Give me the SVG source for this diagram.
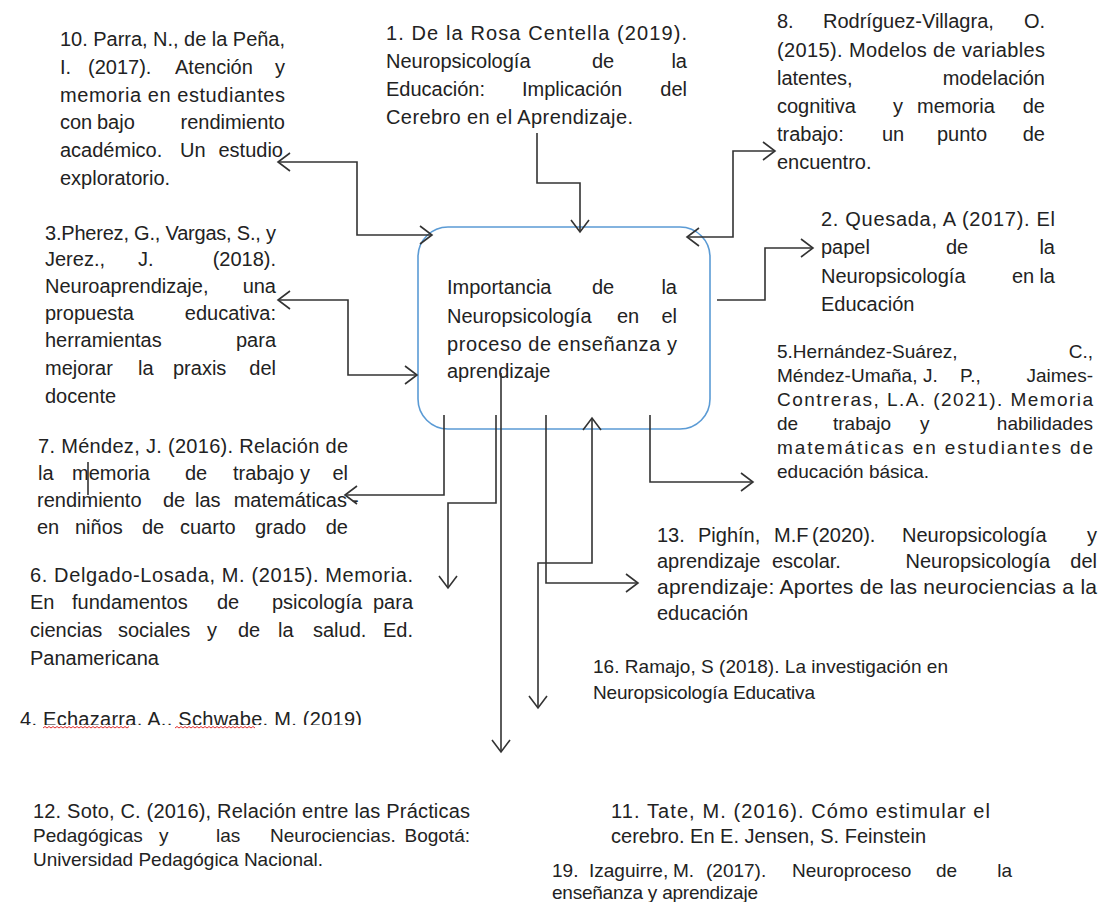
<svg xmlns="http://www.w3.org/2000/svg" width="1101" height="902" viewBox="0 0 1101 902">
<defs>
<style>
.t{font-family:"Liberation Sans",Arial,sans-serif;font-size:20px;fill:#222;}
.s{font-size:18px;}
.m{font-size:19px;}
.l{font-size:21px;}
.e{text-anchor:end;}
.c{fill:none;stroke:#333;stroke-width:1.6;}
.a{marker-end:url(#ah);}
.b{marker-start:url(#ah);marker-end:url(#ah);}
</style>
<marker id="ah" markerUnits="userSpaceOnUse" markerWidth="16" markerHeight="22" viewBox="0 0 16 22" refX="13" refY="11" orient="auto-start-reverse">
<path d="M1,2 L13,11 L1,20" fill="none" stroke="#333" stroke-width="1.6"/>
</marker>
<clipPath id="clip4"><rect x="0" y="700" width="400" height="25"/></clipPath>
</defs>
<rect width="1101" height="902" fill="#fff"/>

<g id="center">
<rect x="418" y="227" width="292" height="202" rx="30" ry="30" fill="none" stroke="#5b9bd5" stroke-width="1.6"/>
<text class="t" y="294"><tspan x="447">Importancia</tspan><tspan x="592">de</tspan><tspan x="677" class="e">la</tspan></text>
<text class="t" y="323"><tspan x="447">Neuropsicología</tspan><tspan x="617">en</tspan><tspan x="677" class="e">el</tspan></text>
<text class="t" x="447" y="351" textLength="230" lengthAdjust="spacing">proceso de enseñanza y</text>
<text class="t" x="447" y="378">aprendizaje</text>
</g>

<g id="ref10">
<text class="t" x="60" y="46" textLength="225" lengthAdjust="spacing">10. Parra, N., de la Peña,</text>
<text class="t" y="74"><tspan x="60">I.</tspan><tspan x="88">(2017).</tspan><tspan x="175">Atención</tspan><tspan x="285" class="e">y</tspan></text>
<text class="t" x="60" y="102" textLength="225" lengthAdjust="spacing">memoria en estudiantes</text>
<text class="t" y="129"><tspan x="60">con</tspan><tspan x="97">bajo</tspan><tspan x="285" class="e">rendimiento</tspan></text>
<text class="t" y="157"><tspan x="60">académico.</tspan><tspan x="180">Un</tspan><tspan x="283" class="e">estudio</tspan></text>
<text class="t" x="60" y="185">exploratorio.</text>
</g>

<g id="ref1">
<text class="t" x="386" y="40" textLength="301" lengthAdjust="spacing">1. De la Rosa Centella (2019).</text>
<text class="t" y="68"><tspan x="386">Neuropsicología</tspan><tspan x="592">de</tspan><tspan x="687" class="e">la</tspan></text>
<text class="t" y="96"><tspan x="386">Educación:</tspan><tspan x="522">Implicación</tspan><tspan x="687" class="e">del</tspan></text>
<text class="t" x="386" y="124" textLength="247" lengthAdjust="spacing">Cerebro en el Aprendizaje.</text>
</g>

<g id="ref8">
<text class="t" y="28"><tspan x="777">8.</tspan><tspan x="823">Rodríguez-Villagra,</tspan><tspan x="1045" class="e">O.</tspan></text>
<text class="t" x="777" y="57" textLength="268" lengthAdjust="spacing">(2015). Modelos de variables</text>
<text class="t" y="85"><tspan x="777">latentes,</tspan><tspan x="1045" class="e">modelación</tspan></text>
<text class="t" y="113"><tspan x="777">cognitiva</tspan><tspan x="893">y</tspan><tspan x="917">memoria</tspan><tspan x="1045" class="e">de</tspan></text>
<text class="t" y="141"><tspan x="777">trabajo:</tspan><tspan x="882">un</tspan><tspan x="937">punto</tspan><tspan x="1045" class="e">de</tspan></text>
<text class="t" x="777" y="169">encuentro.</text>
</g>

<g id="ref2">
<text class="t" x="821" y="226" textLength="234" lengthAdjust="spacing">2. Quesada, A (2017). El</text>
<text class="t" y="254"><tspan x="821">papel</tspan><tspan x="946">de</tspan><tspan x="1055" class="e">la</tspan></text>
<text class="t" y="283"><tspan x="821">Neuropsicología</tspan><tspan x="1012">en</tspan><tspan x="1055" class="e">la</tspan></text>
<text class="t" x="821" y="311">Educación</text>
</g>

<g id="ref3">
<text class="t" x="45" y="240" textLength="231" lengthAdjust="spacing">3.Pherez, G., Vargas, S., y</text>
<text class="t" y="266"><tspan x="45">Jerez.,</tspan><tspan x="138">J.</tspan><tspan x="276" class="e">(2018).</tspan></text>
<text class="t" y="293"><tspan x="45">Neuroaprendizaje,</tspan><tspan x="276" class="e">una</tspan></text>
<text class="t" y="320"><tspan x="45">propuesta</tspan><tspan x="276" class="e">educativa:</tspan></text>
<text class="t" y="347"><tspan x="45">herramientas</tspan><tspan x="276" class="e">para</tspan></text>
<text class="t" y="375"><tspan x="45">mejorar</tspan><tspan x="138">la</tspan><tspan x="173">praxis</tspan><tspan x="276" class="e">del</tspan></text>
<text class="t" x="45" y="403">docente</text>
</g>

<g id="ref5">
<text class="t m" y="358"><tspan x="777">5.Hernández-Suárez,</tspan><tspan x="1093" class="e">C.,</tspan></text>
<text class="t m" y="382"><tspan x="777">Méndez-Umaña,</tspan><tspan x="923">J.</tspan><tspan x="960">P.,</tspan><tspan x="1093" class="e">Jaimes-</tspan></text>
<text class="t m" x="777" y="406" textLength="316" lengthAdjust="spacing">Contreras, L.A. (2021). Memoria</text>
<text class="t m" y="430"><tspan x="777">de</tspan><tspan x="833">trabajo</tspan><tspan x="920">y</tspan><tspan x="1093" class="e">habilidades</tspan></text>
<text class="t m" x="777" y="454" textLength="316" lengthAdjust="spacing">matemáticas en estudiantes de</text>
<text class="t m" x="777" y="478">educación básica.</text>
</g>

<g id="ref7">
<text class="t" x="38" y="453" textLength="310" lengthAdjust="spacing">7. Méndez, J. (2016). Relación de</text>
<text class="t" y="480"><tspan x="38">la</tspan><tspan x="72">memoria</tspan><tspan x="185">de</tspan><tspan x="233">trabajo</tspan><tspan x="300">y</tspan><tspan x="348" class="e">el</tspan></text>
<text class="t" y="507"><tspan x="37">rendimiento</tspan><tspan x="163">de</tspan><tspan x="195">las</tspan><tspan x="347" class="e">matemáticas</tspan><tspan x="352">-</tspan></text>
<text class="t" y="534"><tspan x="37">en</tspan><tspan x="75">niños</tspan><tspan x="142">de</tspan><tspan x="180">cuarto</tspan><tspan x="255">grado</tspan><tspan x="348" class="e">de</tspan></text>
</g>

<g id="ref6">
<text class="t" x="30" y="582" textLength="383" lengthAdjust="spacing">6. Delgado-Losada, M. (2015). Memoria.</text>
<text class="t" y="609"><tspan x="30">En</tspan><tspan x="72">fundamentos</tspan><tspan x="217">de</tspan><tspan x="272">psicología</tspan><tspan x="413" class="e">para</tspan></text>
<text class="t" y="637"><tspan x="30">ciencias</tspan><tspan x="118">sociales</tspan><tspan x="207">y</tspan><tspan x="238">de</tspan><tspan x="278">la</tspan><tspan x="313">salud.</tspan><tspan x="413" class="e">Ed.</tspan></text>
<text class="t" x="30" y="665">Panamericana</text>
</g>

<g id="ref4">
<text class="t" x="20" y="726" textLength="342" lengthAdjust="spacing" clip-path="url(#clip4)">4. Echazarra, A., Schwabe, M. (2019)</text>
<path d="M43,728 l2,-1.5 l2,1.5 l2,-1.5 l2,1.5 l2,-1.5 l2,1.5 l2,-1.5 l2,1.5 l2,-1.5 l2,1.5 l2,-1.5 l2,1.5 l2,-1.5 l2,1.5 l2,-1.5 l2,1.5 l2,-1.5 l2,1.5 l2,-1.5 l2,1.5 l2,-1.5 l2,1.5 l2,-1.5 l2,1.5 l2,-1.5 l2,1.5 l2,-1.5 l2,1.5 l2,-1.5 l2,1.5 l2,-1.5 l2,1.5 l2,-1.5 l2,1.5 l2,-1.5 l2,1.5 l2,-1.5 l2,1.5 l2,-1.5 l2,1.5 l2,-1.5 l2,1.5 l2,-1.5 M175,728 l2,-1.5 l2,1.5 l2,-1.5 l2,1.5 l2,-1.5 l2,1.5 l2,-1.5 l2,1.5 l2,-1.5 l2,1.5 l2,-1.5 l2,1.5 l2,-1.5 l2,1.5 l2,-1.5 l2,1.5 l2,-1.5 l2,1.5 l2,-1.5 l2,1.5 l2,-1.5 l2,1.5 l2,-1.5 l2,1.5 l2,-1.5 l2,1.5 l2,-1.5 l2,1.5 l2,-1.5 l2,1.5 l2,-1.5 l2,1.5 l2,-1.5 l2,1.5 l2,-1.5 l2,1.5 l2,-1.5 l2,1.5 l2,-1.5 l2,1.5" fill="none" stroke="#e03030" stroke-width="1"/>
</g>

<g id="ref13">
<text class="t" y="542"><tspan x="657">13.</tspan><tspan x="698">Pighín,</tspan><tspan x="774">M.F</tspan><tspan x="812">(2020).</tspan><tspan x="902">Neuropsicología</tspan><tspan x="1097" class="e">y</tspan></text>
<text class="t" y="568"><tspan x="657">aprendizaje</tspan><tspan x="772">escolar.</tspan><tspan x="1050" class="e">Neuropsicología</tspan><tspan x="1097" class="e">del</tspan></text>
<text class="t l" x="657" y="594" textLength="440" lengthAdjust="spacing">aprendizaje: Aportes de las neurociencias a la</text>
<text class="t" x="657" y="620">educación</text>
</g>

<g id="ref16">
<text class="t m" x="593" y="673" textLength="355" lengthAdjust="spacing">16. Ramajo, S (2018). La investigación en</text>
<text class="t m" x="593" y="699" textLength="222" lengthAdjust="spacing">Neuropsicología Educativa</text>
</g>

<g id="ref12">
<text class="t" x="33" y="818" textLength="437" lengthAdjust="spacing">12. Soto, C. (2016), Relación entre las Prácticas</text>
<text class="t m" y="842"><tspan x="33">Pedagógicas</tspan><tspan x="159">y</tspan><tspan x="216">las</tspan><tspan x="270">Neurociencias.</tspan><tspan x="470" class="e">Bogotá:</tspan></text>
<text class="t m" x="33" y="866" textLength="290" lengthAdjust="spacing">Universidad Pedagógica Nacional.</text>
</g>

<g id="ref11">
<text class="t" x="611" y="818" textLength="379" lengthAdjust="spacing">11. Tate, M. (2016). Cómo estimular el</text>
<text class="t" x="611" y="843" textLength="315" lengthAdjust="spacing">cerebro. En E. Jensen, S. Feinstein</text>
</g>

<g id="ref19">
<text class="t m" y="877"><tspan x="552">19.</tspan><tspan x="589">Izaguirre,</tspan><tspan x="673">M.</tspan><tspan x="706">(2017).</tspan><tspan x="792">Neuroproceso</tspan><tspan x="936">de</tspan><tspan x="1012" class="e">la</tspan></text>
<text class="t m" x="552" y="899" textLength="206" lengthAdjust="spacing">enseñanza y aprendizaje</text>
</g>

<g id="connectors">
<path class="c a" d="M537,133 V183 H580 V232"/>
<path class="c b" d="M278,162 H357 V235 H432"/>
<path class="c b" d="M687,237 H733 V151 H775"/>
<path class="c a" d="M717,300 H765 V248 H813"/>
<path class="c b" d="M278,300 H348 V375 H417"/>
<path class="c a" d="M444,415 V495 H345"/>
<path class="c a" d="M496,415 V503 H448 V588"/>
<path class="c a" d="M501,373 V752"/>
<path class="c a" d="M546,415 V583 H638"/>
<path class="c b" d="M592,418 V563 H538 V708"/>
<path class="c a" d="M650,415 V482 H753"/>
<path class="c" d="M88,462 V495"/>
</g>
</svg>
